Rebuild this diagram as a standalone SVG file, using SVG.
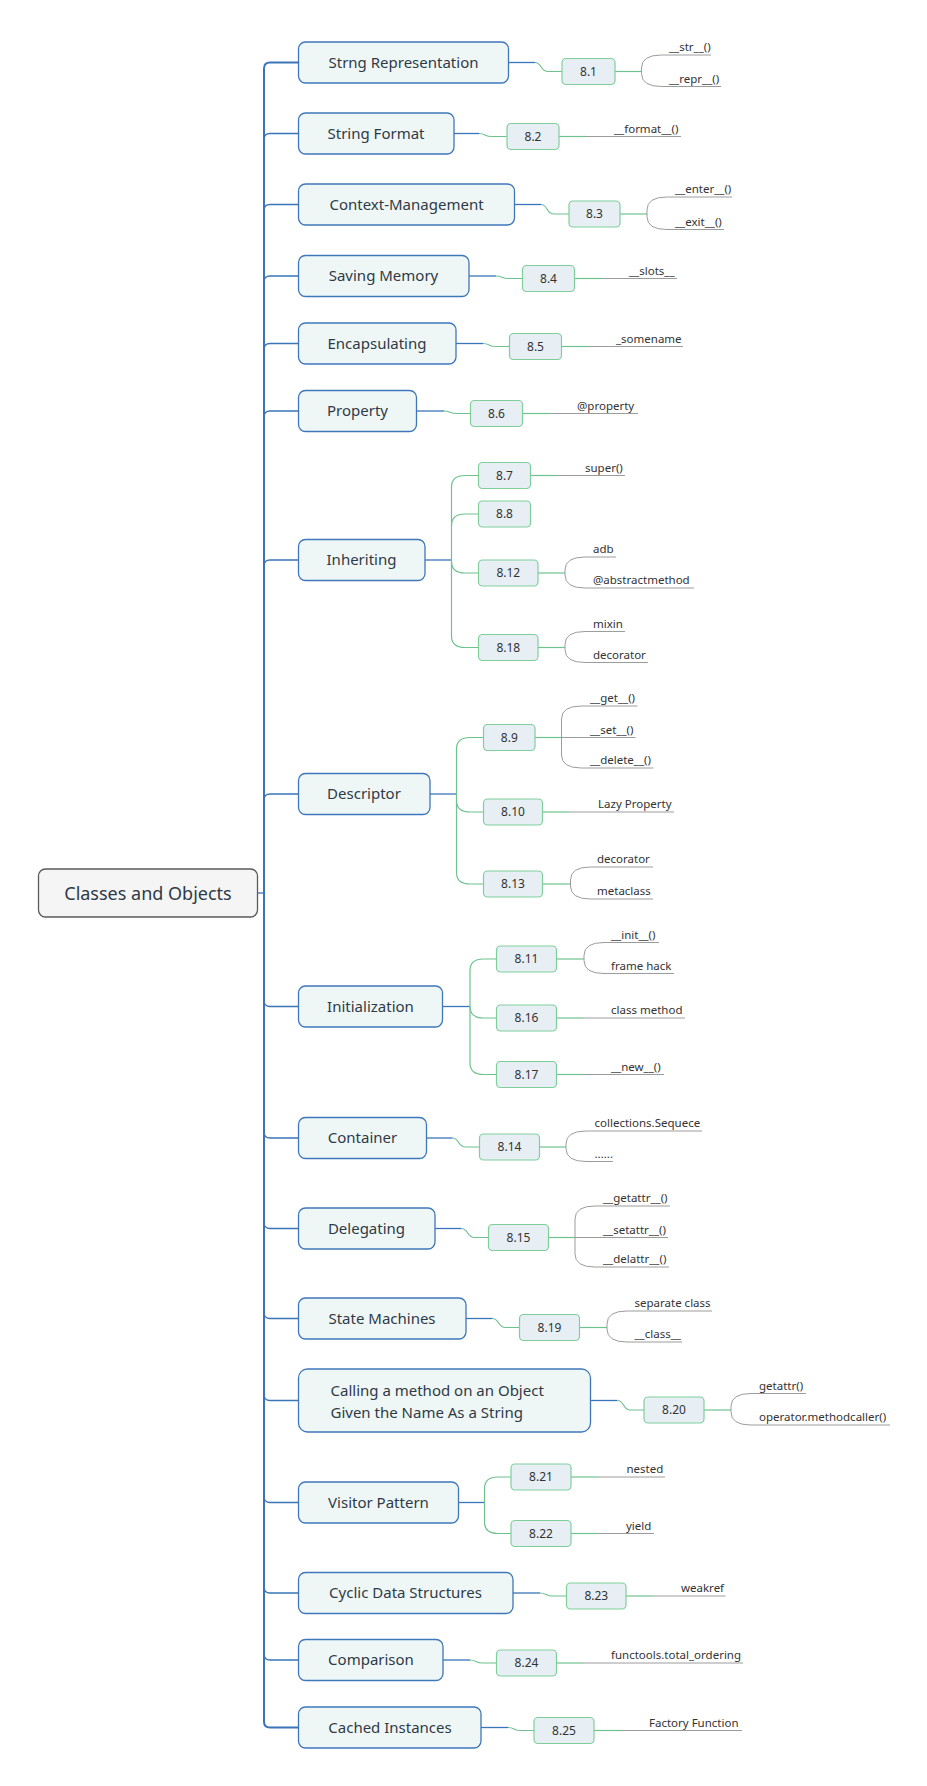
<svg xmlns="http://www.w3.org/2000/svg" width="927" height="1786" viewBox="0 0 927 1786">
<style>
text{font-family:"Noto Sans","Open Sans","DejaVu Sans",sans-serif;fill:#2e3a46}
.root rect{fill:#f5f5f5;stroke:#5a5a5a;stroke-width:1.3}
.root text{font-size:18px;text-anchor:middle}
.topic rect{fill:#eff7f6;stroke:#3f77ba;stroke-width:1.3}
.topic text{font-size:15px;text-anchor:middle}
.sub rect{fill:#e7eff5;stroke:#7fcf9b;stroke-width:1.2}
.sub text{font-size:12px;text-anchor:middle;fill:#333}
.leaf text{font-size:11.5px;fill:#333}
.b{fill:none;stroke:#3a75b9;stroke-width:1.3}
.t{fill:none;stroke:#3a75b9;stroke-width:2}
.g{fill:none;stroke:#6ec28e;stroke-width:1.2}
.y{fill:none;stroke:#9c9c9c;stroke-width:1}
</style>
<g id="connectors">
<path class="t" d="M298.5,62.5 H270 Q264,62.5 264,68.5 V1721.5 Q264,1727.5 270,1727.5 H298.5"/>
<path class="b" d="M257.5,893 H264"/>
<path class="b" d="M264,139.5 Q264,133.5 270,133.5 H298.5"/>
<path class="b" d="M264,210.5 Q264,204.5 270,204.5 H298.5"/>
<path class="b" d="M264,282 Q264,276 270,276 H298.5"/>
<path class="b" d="M264,349.5 Q264,343.5 270,343.5 H298.5"/>
<path class="b" d="M264,417 Q264,411 270,411 H298.5"/>
<path class="b" d="M264,566 Q264,560 270,560 H298.5"/>
<path class="b" d="M264,800 Q264,794 270,794 H298.5"/>
<path class="b" d="M264,1000.5 Q264,1006.5 270,1006.5 H298.5"/>
<path class="b" d="M264,1132 Q264,1138 270,1138 H298.5"/>
<path class="b" d="M264,1222.5 Q264,1228.5 270,1228.5 H298.5"/>
<path class="b" d="M264,1312.5 Q264,1318.5 270,1318.5 H298.5"/>
<path class="b" d="M264,1394.5 Q264,1400.5 270,1400.5 H298.5"/>
<path class="b" d="M264,1496.5 Q264,1502.5 270,1502.5 H298.5"/>
<path class="b" d="M264,1587 Q264,1593 270,1593 H298.5"/>
<path class="b" d="M264,1654 Q264,1660 270,1660 H298.5"/>
<!-- topic to sub -->
<path class="b" d="M508.5,62.5 H535"/><path class="g" d="M535,62.5 C542,62.5 540,71.5 548,71.5 H562"/>
<path class="b" d="M454,133.5 H479"/><path class="g" d="M479,133.5 C486,133.5 484,136.5 492,136.5 H507"/>
<path class="b" d="M514.5,204.5 H541"/><path class="g" d="M541,204.5 C548,204.5 546,214 554,214 H569"/>
<path class="b" d="M469,276 H496"/><path class="g" d="M496,276 C503,276 501,278.5 509,278.5 H522.5"/>
<path class="b" d="M456,343.5 H483"/><path class="g" d="M483,343.5 C490,343.5 488,346.5 496,346.5 H509.5"/>
<path class="b" d="M416.5,411 H444"/><path class="g" d="M444,411 C451,411 449,413.5 457,413.5 H470.5"/>
<path class="b" d="M425,560 H451.5"/>
<path class="g" d="M478.5,475.5 H465 Q451.5,475.5 451.5,487 V636 Q451.5,647.5 465,647.5 H478.5"/>
<path class="g" d="M451.5,525.5 Q451.5,514 465,514 H478.5"/>
<path class="g" d="M451.5,561.5 Q451.5,573 465,573 H478.5"/>
<path class="b" d="M430,794 H456.5"/>
<path class="g" d="M483.5,737.5 H470 Q456.5,737.5 456.5,749 V872.5 Q456.5,884 470,884 H483.5"/>
<path class="g" d="M456.5,800.5 Q456.5,812 470,812 H483.5"/>
<path class="b" d="M442.5,1006.5 H470"/>
<path class="g" d="M496.5,959 H483.5 Q470,959 470,970.5 V1063 Q470,1074.5 483.5,1074.5 H496.5"/>
<path class="g" d="M470,1006.5 Q470,1018 483.5,1018 H496.5"/>
<path class="b" d="M426.5,1138 H452.5"/><path class="g" d="M452.5,1138 C459.5,1138 457.5,1147 465.5,1147 H479.5"/>
<path class="b" d="M435,1228.5 H461.5"/><path class="g" d="M461.5,1228.5 C468.5,1228.5 466.5,1237.5 474.5,1237.5 H488.5"/>
<path class="b" d="M466,1318.5 H492.5"/><path class="g" d="M492.5,1318.5 C499.5,1318.5 497.5,1327.5 505.5,1327.5 H519.5"/>
<path class="b" d="M590.5,1400.5 H617.5"/><path class="g" d="M617.5,1400.5 C624.5,1400.5 622.5,1410 630.5,1410 H644"/>
<path class="b" d="M458.5,1502.5 H484.5"/>
<path class="g" d="M511,1477 H498 Q484.5,1477 484.5,1488.5 V1522 Q484.5,1533.5 498,1533.5 H511"/>
<path class="b" d="M513,1593 H540"/><path class="g" d="M540,1593 C547,1593 545,1596 553,1596 H566.5"/>
<path class="b" d="M443,1660 H470"/><path class="g" d="M470,1660 C477,1660 475,1663 483,1663 H496.5"/>
<path class="b" d="M481,1727.5 H508"/><path class="g" d="M508,1727.5 C515,1727.5 513,1730.5 521,1730.5 H534"/>
<!-- sub to leaves -->
<path class="g" d="M615,71.5 H641.5"/><path class="y" d="M711,55 H661.5 Q641.5,55 641.5,68 V73.5 Q641.5,86.5 661.5,86.5 H721"/>
<path class="g" d="M559,136.5 H586"/><path class="y" d="M586,136.5 H681"/>
<path class="g" d="M620,214 H647"/><path class="y" d="M732,197 H667 Q647,197 647,210 V216.5 Q647,229.5 667,229.5 H724"/>
<path class="g" d="M574.5,278.5 H601"/><path class="y" d="M601,278.5 H677"/>
<path class="g" d="M561.5,346.5 H588"/><path class="y" d="M588,346.5 H683"/>
<path class="g" d="M522.5,413.5 H549"/><path class="y" d="M549,413.5 H638"/>
<path class="g" d="M530.5,475.5 H557"/><path class="y" d="M557,475.5 H625"/>
<path class="g" d="M538,573 H565"/><path class="y" d="M616,557 H585 Q565,557 565,570 V575 Q565,588 585,588 H694"/>
<path class="g" d="M538,647.5 H565"/><path class="y" d="M625,631.5 H585 Q565,631.5 565,644.5 V649.5 Q565,662.5 585,662.5 H648"/>
<path class="g" d="M535,737.5 H561.5"/><path class="y" d="M637.5,706 H581.5 Q561.5,706 561.5,719 V755 Q561.5,768 581.5,768 H653.5"/><path class="y" d="M561.5,737.5 H635.5"/>
<path class="g" d="M542.5,812 H570"/><path class="y" d="M570,812 H674"/>
<path class="g" d="M542.5,884 H570.5"/><path class="y" d="M653,867 H590.5 Q570.5,867 570.5,880 V886 Q570.5,899 590.5,899 H653"/>
<path class="g" d="M556.5,959 H584"/><path class="y" d="M659,942.5 H604 Q584,942.5 584,955.5 V960.5 Q584,973.5 604,973.5 H674"/>
<path class="g" d="M556.5,1018 H584"/><path class="y" d="M584,1018 H685"/>
<path class="g" d="M556.5,1074.5 H584"/><path class="y" d="M584,1074.5 H664"/>
<path class="g" d="M539.5,1147 H566"/><path class="y" d="M702,1131 H586 Q566,1131 566,1144 V1148.5 Q566,1161.5 586,1161.5 H613"/>
<path class="g" d="M548.5,1237.5 H575"/><path class="y" d="M670,1206 H595 Q575,1206 575,1219 V1254 Q575,1267 595,1267 H669"/><path class="y" d="M575,1237.5 H668"/>
<path class="g" d="M579.5,1327.5 H607"/><path class="y" d="M712,1311 H627 Q607,1311 607,1324 V1329 Q607,1342 627,1342 H682"/>
<path class="g" d="M704,1410 H731"/><path class="y" d="M806,1393.5 H751 Q731,1393.5 731,1406.5 V1412 Q731,1425 751,1425 H890"/>
<path class="g" d="M571,1477 H598"/><path class="y" d="M598,1477 H665"/>
<path class="g" d="M571,1533.5 H598"/><path class="y" d="M598,1533.5 H654"/>
<path class="g" d="M626,1596 H653"/><path class="y" d="M653,1596 H725.5"/>
<path class="g" d="M556.5,1663 H584"/><path class="y" d="M584,1663 H743"/>
<path class="g" d="M594,1730.5 H621"/><path class="y" d="M621,1730.5 H742"/>
</g>
<g id="root" class="root"><rect x="38.5" y="869" width="219" height="48" rx="7"/><text x="148" y="899.5">Classes and Objects</text></g>
<g id="t-strng" class="topic"><rect x="298.5" y="42" width="210" height="41" rx="7"/><text x="403.5" y="67.5">Strng Representation</text></g>
<g id="t-format" class="topic"><rect x="298.5" y="113" width="155.5" height="41" rx="7"/><text x="376" y="138.5">String Format</text></g>
<g id="t-context" class="topic"><rect x="298.5" y="184" width="216" height="41" rx="7"/><text x="406.5" y="209.5">Context-Management</text></g>
<g id="t-memory" class="topic"><rect x="298.5" y="255.5" width="170.5" height="41" rx="7"/><text x="383.5" y="281">Saving Memory</text></g>
<g id="t-encap" class="topic"><rect x="298.5" y="323" width="157.5" height="41" rx="7"/><text x="377" y="348.5">Encapsulating</text></g>
<g id="t-property" class="topic"><rect x="298.5" y="390.5" width="118" height="41" rx="7"/><text x="357.5" y="416">Property</text></g>
<g id="t-inherit" class="topic"><rect x="298.5" y="539.5" width="126.5" height="41" rx="7"/><text x="361.5" y="565">Inheriting</text></g>
<g id="t-descriptor" class="topic"><rect x="298.5" y="773.5" width="131.5" height="41" rx="7"/><text x="364" y="799">Descriptor</text></g>
<g id="t-init" class="topic"><rect x="298.5" y="986" width="144" height="41" rx="7"/><text x="370.5" y="1011.5">Initialization</text></g>
<g id="t-container" class="topic"><rect x="298.5" y="1117.5" width="128" height="41" rx="7"/><text x="362.5" y="1143">Container</text></g>
<g id="t-deleg" class="topic"><rect x="298.5" y="1208" width="136.5" height="41" rx="7"/><text x="366.5" y="1233.5">Delegating</text></g>
<g id="t-state" class="topic"><rect x="298.5" y="1298" width="167.5" height="41" rx="7"/><text x="382" y="1323.5">State Machines</text></g>
<g id="t-calling" class="topic"><rect x="298.5" y="1369" width="292" height="63" rx="9"/><text x="330.5" y="1395.5" style="text-anchor:start">Calling a method on an Object</text><text x="330.5" y="1417.5" style="text-anchor:start">Given the Name As a String</text></g>
<g id="t-visitor" class="topic"><rect x="298.5" y="1482" width="160" height="41" rx="7"/><text x="378.5" y="1507.5">Visitor Pattern</text></g>
<g id="t-cyclic" class="topic"><rect x="298.5" y="1572.5" width="214.5" height="41" rx="7"/><text x="405.5" y="1598">Cyclic Data Structures</text></g>
<g id="t-compare" class="topic"><rect x="298.5" y="1639.5" width="144.5" height="41" rx="7"/><text x="371" y="1665">Comparison</text></g>
<g id="t-cached" class="topic"><rect x="298.5" y="1707" width="182.5" height="41" rx="7"/><text x="390" y="1732.5">Cached Instances</text></g>
<g id="s-8-1" class="sub"><rect x="562" y="58.5" width="53" height="26" rx="4"/><text x="588.5" y="75.8">8.1</text></g>
<g id="s-8-2" class="sub"><rect x="507" y="123.5" width="52" height="26" rx="4"/><text x="533" y="140.8">8.2</text></g>
<g id="s-8-3" class="sub"><rect x="569" y="201" width="51" height="26" rx="4"/><text x="594.5" y="218.3">8.3</text></g>
<g id="s-8-4" class="sub"><rect x="522.5" y="265.5" width="52" height="26" rx="4"/><text x="548.5" y="282.8">8.4</text></g>
<g id="s-8-5" class="sub"><rect x="509.5" y="333.5" width="52" height="26" rx="4"/><text x="535.5" y="350.8">8.5</text></g>
<g id="s-8-6" class="sub"><rect x="470.5" y="400.5" width="52" height="26" rx="4"/><text x="496.5" y="417.8">8.6</text></g>
<g id="s-8-7" class="sub"><rect x="478.5" y="462.5" width="52" height="26" rx="4"/><text x="504.5" y="479.8">8.7</text></g>
<g id="s-8-8" class="sub"><rect x="478.5" y="501" width="52" height="26" rx="4"/><text x="504.5" y="518.3">8.8</text></g>
<g id="s-8-12" class="sub"><rect x="478.5" y="560" width="59.5" height="26" rx="4"/><text x="508.3" y="577.3">8.12</text></g>
<g id="s-8-18" class="sub"><rect x="478.5" y="634.5" width="59.5" height="26" rx="4"/><text x="508.3" y="651.8">8.18</text></g>
<g id="s-8-9" class="sub"><rect x="483.5" y="724.5" width="51.5" height="26" rx="4"/><text x="509.3" y="741.8">8.9</text></g>
<g id="s-8-10" class="sub"><rect x="483.5" y="799" width="59" height="26" rx="4"/><text x="513" y="816.3">8.10</text></g>
<g id="s-8-13" class="sub"><rect x="483.5" y="871" width="59" height="26" rx="4"/><text x="513" y="888.3">8.13</text></g>
<g id="s-8-11" class="sub"><rect x="496.5" y="946" width="60" height="26" rx="4"/><text x="526.5" y="963.3">8.11</text></g>
<g id="s-8-16" class="sub"><rect x="496.5" y="1005" width="60" height="26" rx="4"/><text x="526.5" y="1022.3">8.16</text></g>
<g id="s-8-17" class="sub"><rect x="496.5" y="1061.5" width="60" height="26" rx="4"/><text x="526.5" y="1078.8">8.17</text></g>
<g id="s-8-14" class="sub"><rect x="479.5" y="1134" width="60" height="26" rx="4"/><text x="509.5" y="1151.3">8.14</text></g>
<g id="s-8-15" class="sub"><rect x="488.5" y="1224.5" width="60" height="26" rx="4"/><text x="518.5" y="1241.8">8.15</text></g>
<g id="s-8-19" class="sub"><rect x="519.5" y="1314.5" width="60" height="26" rx="4"/><text x="549.5" y="1331.8">8.19</text></g>
<g id="s-8-20" class="sub"><rect x="644" y="1397" width="60" height="26" rx="4"/><text x="674" y="1414.3">8.20</text></g>
<g id="s-8-21" class="sub"><rect x="511" y="1464" width="60" height="26" rx="4"/><text x="541" y="1481.3">8.21</text></g>
<g id="s-8-22" class="sub"><rect x="511" y="1520.5" width="60" height="26" rx="4"/><text x="541" y="1537.8">8.22</text></g>
<g id="s-8-23" class="sub"><rect x="566.5" y="1583" width="59.5" height="26" rx="4"/><text x="596.3" y="1600.3">8.23</text></g>
<g id="s-8-24" class="sub"><rect x="496.5" y="1650" width="60" height="26" rx="4"/><text x="526.5" y="1667.3">8.24</text></g>
<g id="s-8-25" class="sub"><rect x="534" y="1717.5" width="60" height="26" rx="4"/><text x="564" y="1734.8">8.25</text></g>
<g id="leaves" class="leaf">
<text x="669" y="51">__str__()</text>
<text x="669" y="82.5">__repr__()</text>
<text x="614" y="132.5">__format__()</text>
<text x="675" y="193">__enter__()</text>
<text x="675" y="225.5">__exit__()</text>
<text x="629" y="274.5">__slots__</text>
<text x="616" y="342.5">_somename</text>
<text x="577" y="409.5">@property</text>
<text x="585" y="471.5">super()</text>
<text x="593" y="553">adb</text>
<text x="593" y="584">@abstractmethod</text>
<text x="593" y="627.5">mixin</text>
<text x="593" y="658.5">decorator</text>
<text x="590" y="702">__get__()</text>
<text x="590" y="733.5">__set__()</text>
<text x="590" y="764">__delete__()</text>
<text x="598" y="808">Lazy Property</text>
<text x="597" y="863">decorator</text>
<text x="597" y="895">metaclass</text>
<text x="611" y="938.5">__init__()</text>
<text x="611" y="969.5">frame hack</text>
<text x="611" y="1014">class method</text>
<text x="611" y="1070.5">__new__()</text>
<text x="594.5" y="1127">collections.Sequece</text>
<text x="594.5" y="1157.5">......</text>
<text x="603" y="1202">__getattr__()</text>
<text x="603" y="1233.5">__setattr__()</text>
<text x="603" y="1263">__delattr__()</text>
<text x="634.5" y="1307">separate class</text>
<text x="634.5" y="1338">__class__</text>
<text x="759" y="1389.5">getattr()</text>
<text x="759" y="1421">operator.methodcaller()</text>
<text x="626.5" y="1473">nested</text>
<text x="626" y="1529.5">yield</text>
<text x="681" y="1592">weakref</text>
<text x="611" y="1659">functools.total_ordering</text>
<text x="649" y="1726.5">Factory Function</text>
</g>
</svg>
